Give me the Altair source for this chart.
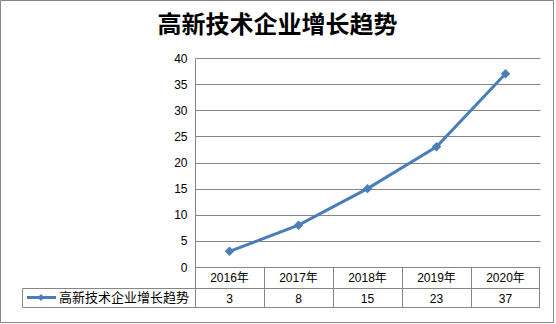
import altair as alt
import pandas as pd

# Series data
years = ["2016年", "2017年", "2018年", "2019年", "2020年"]
counts = [3, 8, 15, 23, 37]
series_name = "高新技术企业增长趋势"
chart_title = "高新技术企业增长趋势"
y_ticks = [0, 5, 10, 15, 20, 25, 30, 35, 40]

df = pd.DataFrame({"year": years, "count": counts})
one = pd.DataFrame({"k": [0]})

W, H = 345, 209
BLUE = "#4A7EBB"
GRID = "#868686"
FONT = "Liberation Sans, Noto Sans CJK SC, sans-serif"
CJK = "Noto Sans CJK SC"

xscale = alt.Scale(type="band", domain=years, paddingInner=0, paddingOuter=0)
x_mid = alt.X("year:N", scale=xscale, bandPosition=0.5, axis=None)
x_start = alt.X("year:N", scale=xscale, bandPosition=0, axis=None)
y_axis = alt.Axis(
    values=y_ticks, title=None, ticks=False, labelPadding=8,
    labelOverlap=False, labelFlush=False,
    grid=True, gridColor=GRID, gridOpacity=1, domainColor=GRID,
    labelFont=FONT, labelFontSize=12, labelColor="#000000",
)
y_enc = alt.Y("count:Q", scale=alt.Scale(domain=[0, 40], nice=False), axis=y_axis)

base = alt.Chart(df)
line = base.mark_line(color=BLUE, strokeWidth=3).encode(x=x_mid, y=y_enc)
pts = base.mark_point(shape="diamond", filled=True, size=90, color=BLUE, opacity=1).encode(
    x=x_mid, y=y_enc
)

# Data table under the plot
row_lines = alt.Chart(pd.DataFrame({"yy": [230.5, 249.5]})).mark_rule(color=GRID).encode(
    x=alt.value(-172.5), x2=alt.value(W), y=alt.Y("yy:Q", scale=None)
)
col_lines = base.mark_rule(color=GRID, xOffset=0.5).encode(
    x=x_start, y=alt.value(H), y2=alt.value(249.5)
)
right_line = alt.Chart(one).mark_rule(color=GRID).encode(
    x=alt.value(W - 0.5), y=alt.value(H), y2=alt.value(249.5)
)
legend_left = alt.Chart(one).mark_rule(color=GRID).encode(
    x=alt.value(-172.5), y=alt.value(230.5), y2=alt.value(249.5)
)
year_text = base.mark_text(font=FONT, fontSize=12, baseline="middle", color="#000000").encode(
    x=x_mid, y=alt.value(219.5), text="year:N"
)
val_text = base.mark_text(font=FONT, fontSize=12, baseline="middle", color="#000000").encode(
    x=x_mid, y=alt.value(240.5), text="count:Q"
)

# Legend key inside the table
key_line = alt.Chart(one).mark_rule(color=BLUE, strokeWidth=3).encode(
    x=alt.value(-168), x2=alt.value(-139), y=alt.value(239.5)
)
key_pt = alt.Chart(one).mark_point(shape="diamond", filled=True, size=50, color=BLUE, opacity=1).encode(
    x=alt.value(-154), y=alt.value(239.5)
)
key_text = alt.Chart(one).mark_text(font=CJK, fontSize=13, align="left", baseline="middle", color="#000000").encode(
    x=alt.value(-136), y=alt.value(240), text=alt.value(series_name)
)

# Title and outer frame
title = alt.Chart(one).mark_text(font=CJK, fontSize=24, fontWeight="bold", align="center", baseline="middle", color="#000000").encode(
    x=alt.value(82.5), y=alt.value(-32), text=alt.value(chart_title)
)
frame = alt.Chart(one).mark_rect(fill="transparent", stroke=GRID, strokeWidth=1).encode(
    x=alt.value(-194.5), x2=alt.value(358.5), y=alt.value(-57.5), y2=alt.value(264.5)
)

chart = alt.layer(
    frame, row_lines, col_lines, right_line, legend_left, year_text, val_text,
    key_line, key_pt, key_text, title, line, pts,
).properties(
    width=W, height=H,
    autosize=alt.AutoSizeParams(type="none"),
    padding={"left": 195, "top": 58, "right": 16, "bottom": 57},
    background="white",
).configure_view(stroke="transparent")

chart.save("out.html", embed_options={"renderer": "svg", "actions": False})
